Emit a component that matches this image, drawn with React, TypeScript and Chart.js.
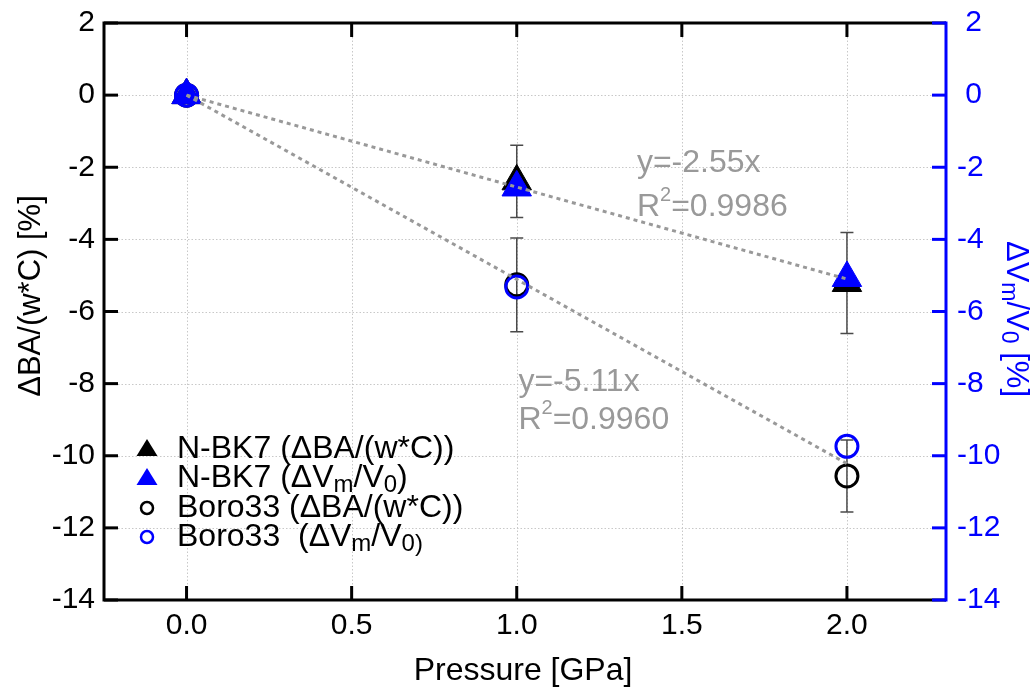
import React, { useEffect, useRef } from 'react';
import { Chart, registerables } from 'chart.js';

Chart.register(...registerables);

// ---------- data ----------
const pressure = [0, 1, 2];
const nbk7BA = [0, -2.39, -5.21];
const nbk7BAErr = [0, 1.0, 1.4];
const nbk7Vm = [0, -2.56, -5.07];
const boroBA = [0, -5.26, -10.56];
const boroBAErr = [0, 1.3, 1.0];
const boroVm = [0, -5.32, -9.74];

const fitX = [0, 2];
const fitNbk7 = [0, -5.1];
const fitBoro = [0, -10.22];

const xTicks = [0, 0.5, 1, 1.5, 2];
const yTicks = [-14, -12, -10, -8, -6, -4, -2, 0, 2];

const fitEquations = ['y=-2.55x', 'y=-5.11x'];
const fitR2 = ['0.9986', '0.9960'];
const fitLabelX = [1.364, 1.005];
const fitLabelY = [-2.13, -8.21];

const FONT = '"Liberation Sans", Arial, Helvetica, sans-serif';
const BLUE = '#0000ff';
const GRAY = '#999999';

type Seg = { t: string; sub?: boolean; sup?: boolean };

function drawRich(ctx: CanvasRenderingContext2D, x: number, y: number, segs: Seg[], size: number) {
  let cx = x;
  for (const s of segs) {
    const fs = s.sub ? Math.round(size * 0.74) : s.sup ? Math.round(size * 0.64) : size;
    ctx.font = `${fs}px ${FONT}`;
    const dy = s.sub ? size * 0.16 : s.sup ? -size * 0.46 : 0;
    ctx.fillText(s.t, cx, y + dy);
    cx += ctx.measureText(s.t).width;
  }
  return cx - x;
}

function richWidth(ctx: CanvasRenderingContext2D, segs: Seg[], size: number) {
  let w = 0;
  for (const s of segs) {
    const fs = s.sub ? Math.round(size * 0.74) : s.sup ? Math.round(size * 0.64) : size;
    ctx.font = `${fs}px ${FONT}`;
    w += ctx.measureText(s.t).width;
  }
  return w;
}

const decorPlugin = {
  id: 'decor',
  beforeDatasetsDraw(chart: any) {
    const { ctx, chartArea: a, scales } = chart;
    const x = scales.x;
    const y = scales.y;
    ctx.save();
    // grid
    ctx.strokeStyle = '#c8c8c8';
    ctx.lineWidth = 1;
    ctx.setLineDash([1.5, 2]);
    xTicks.forEach((v) => {
      const X = Math.round(x.getPixelForValue(v)) + 0.5;
      ctx.beginPath();
      ctx.moveTo(X, a.top);
      ctx.lineTo(X, a.bottom);
      ctx.stroke();
    });
    yTicks.forEach((v) => {
      if (v === -14 || v === 2) return;
      const Y = Math.round(y.getPixelForValue(v)) + 0.5;
      ctx.beginPath();
      ctx.moveTo(a.left, Y);
      ctx.lineTo(a.right, Y);
      ctx.stroke();
    });
    ctx.setLineDash([]);
    // error bars
    ctx.strokeStyle = '#4a4a4a';
    ctx.lineWidth = 1.5;
    const sets: [number[], number[]][] = [
      [nbk7BA, nbk7BAErr],
      [boroBA, boroBAErr],
    ];
    sets.forEach(([vals, errs]) => {
      pressure.forEach((p, i) => {
        if (!errs[i]) return;
        const X = x.getPixelForValue(p);
        const Yt = y.getPixelForValue(vals[i] + errs[i]);
        const Yb = y.getPixelForValue(vals[i] - errs[i]);
        ctx.beginPath();
        ctx.moveTo(X, Yt);
        ctx.lineTo(X, Yb);
        ctx.moveTo(X - 6.5, Yt);
        ctx.lineTo(X + 6.5, Yt);
        ctx.moveTo(X - 6.5, Yb);
        ctx.lineTo(X + 6.5, Yb);
        ctx.stroke();
      });
    });
    ctx.restore();
  },
  afterDatasetsDraw(chart: any) {
    const { ctx, scales } = chart;
    const x = scales.x;
    const y = scales.y;
    ctx.save();
    ctx.fillStyle = GRAY;
    ctx.textAlign = 'left';
    ctx.textBaseline = 'alphabetic';
    const gaps = [44, 38];
    fitEquations.forEach((eq, i) => {
      const X = x.getPixelForValue(fitLabelX[i]);
      const Y = y.getPixelForValue(fitLabelY[i]);
      drawRich(ctx, X, Y, [{ t: eq }], 32);
      drawRich(ctx, X, Y + gaps[i], [{ t: 'R' }, { t: '2', sup: true }, { t: '=' + fitR2[i] }], 32);
    });
    ctx.restore();
  },
  afterDraw(chart: any) {
    const { ctx, chartArea: a, scales } = chart;
    const x = scales.x;
    const y = scales.y;
    ctx.save();
    ctx.lineCap = 'butt';
    // frame
    ctx.strokeStyle = '#000';
    ctx.lineWidth = 3;
    ctx.beginPath();
    ctx.moveTo(a.right, a.top);
    ctx.lineTo(a.left, a.top);
    ctx.lineTo(a.left, a.bottom);
    ctx.lineTo(a.right, a.bottom);
    ctx.stroke();
    const TL = 14;
    // x ticks (top & bottom, inward)
    xTicks.forEach((v) => {
      const X = x.getPixelForValue(v);
      ctx.beginPath();
      ctx.moveTo(X, a.bottom);
      ctx.lineTo(X, a.bottom - TL);
      ctx.moveTo(X, a.top);
      ctx.lineTo(X, a.top + TL);
      ctx.stroke();
    });
    // left ticks
    yTicks.forEach((v) => {
      const Y = y.getPixelForValue(v);
      ctx.beginPath();
      ctx.moveTo(a.left, Y);
      ctx.lineTo(a.left + TL, Y);
      ctx.stroke();
    });
    // right axis in blue
    ctx.strokeStyle = BLUE;
    ctx.beginPath();
    ctx.moveTo(a.right, a.top - 1.5);
    ctx.lineTo(a.right, a.bottom + 1.5);
    ctx.stroke();
    yTicks.forEach((v) => {
      const Y = scales.y1.getPixelForValue(v);
      ctx.beginPath();
      ctx.moveTo(a.right, Y);
      ctx.lineTo(a.right - TL, Y);
      ctx.stroke();
    });

    // axis titles
    ctx.fillStyle = '#000';
    ctx.textBaseline = 'alphabetic';
    ctx.textAlign = 'center';
    ctx.font = `32px ${FONT}`;
    ctx.fillText('Pressure [GPa]', (a.left + a.right) / 2 - 2, 680);

    ctx.save();
    ctx.translate(40, 296);
    ctx.rotate(-Math.PI / 2);
    ctx.font = `31px ${FONT}`;
    ctx.fillText('ΔBA/(w*C) [%]', 0, 0);
    ctx.restore();

    const rightTitle: Seg[] = [
      { t: 'ΔV' },
      { t: 'm', sub: true },
      { t: '/V' },
      { t: '0', sub: true },
      { t: ' [%]' },
    ];
    ctx.save();
    ctx.translate(1007, 319);
    ctx.rotate(Math.PI / 2);
    ctx.fillStyle = BLUE;
    ctx.textAlign = 'left';
    const rw = richWidth(ctx, rightTitle, 31);
    drawRich(ctx, -rw / 2, 0, rightTitle, 31);
    ctx.restore();

    // legend
    ctx.textAlign = 'left';
    const LX = 147;
    const TX = 177;
    const baselines = [458, 487, 517, 546];
    const tri = (cy: number, color: string) => {
      ctx.fillStyle = color;
      ctx.beginPath();
      ctx.moveTo(LX, cy - 9);
      ctx.lineTo(LX + 10.5, cy + 8);
      ctx.lineTo(LX - 10.5, cy + 8);
      ctx.closePath();
      ctx.fill();
    };
    const circ = (cy: number, color: string) => {
      ctx.strokeStyle = color;
      ctx.lineWidth = 2.5;
      ctx.beginPath();
      ctx.arc(LX, cy, 6, 0, Math.PI * 2);
      ctx.stroke();
    };
    tri(baselines[0] - 10, '#000');
    tri(baselines[1] - 10, BLUE);
    circ(baselines[2] - 9, '#000');
    circ(baselines[3] - 9, BLUE);
    ctx.fillStyle = '#000';
    const LF = 32;
    drawRich(ctx, TX, baselines[0], [{ t: 'N-BK7 (ΔBA/(w*C))' }], LF);
    drawRich(ctx, TX, baselines[1], [{ t: 'N-BK7 (ΔV' }, { t: 'm', sub: true }, { t: '/V' }, { t: '0', sub: true }, { t: ')' }], LF);
    drawRich(ctx, TX, baselines[2], [{ t: 'Boro33 (ΔBA/(w*C))' }], LF);
    drawRich(ctx, TX, baselines[3], [{ t: 'Boro33  (ΔV' }, { t: 'm', sub: true }, { t: '/V' }, { t: '0', sub: true }, { t: ')', sub: true }], LF);
    ctx.restore();
  },
};

export default function App() {
  const ref = useRef<HTMLCanvasElement | null>(null);

  useEffect(() => {
    document.body.style.margin = '0';
    const canvas = ref.current;
    if (!canvas) return;
    const pts = (ys: number[]) => pressure.map((p, i) => ({ x: p, y: ys[i] }));
    const fitPts = (ys: number[]) => fitX.map((p, i) => ({ x: p, y: ys[i] }));
    const xTickFont = { family: FONT, size: 30, lineHeight: 1 };
    const yTickFont = { family: FONT, size: 30, lineHeight: 0.8 };

    const chart = new Chart(canvas, {
      type: 'scatter',
      data: {
        datasets: [
          {
            label: 'fit Boro33',
            type: 'line',
            data: fitPts(fitBoro),
            borderColor: GRAY,
            borderWidth: 3,
            borderDash: [4, 4],
            pointRadius: 0,
            fill: false,
            order: 0,
          } as any,
          {
            label: 'fit N-BK7',
            type: 'line',
            data: fitPts(fitNbk7),
            borderColor: GRAY,
            borderWidth: 3,
            borderDash: [4, 4],
            pointRadius: 0,
            fill: false,
            order: 0,
          } as any,
          {
            label: 'Boro33 (ΔVm/V0)',
            data: pts(boroVm),
            yAxisID: 'y1',
            pointStyle: 'circle',
            pointRadius: 11,
            borderWidth: 3,
            borderColor: BLUE,
            backgroundColor: 'rgba(0,0,0,0)',
            order: 1,
          },
          {
            label: 'N-BK7 (ΔVm/V0)',
            data: pts(nbk7Vm),
            yAxisID: 'y1',
            pointStyle: 'triangle',
            pointRadius: 17,
            borderWidth: 1,
            borderColor: BLUE,
            backgroundColor: BLUE,
            order: 2,
          },
          {
            label: 'Boro33 (ΔBA/(w*C))',
            data: pts(boroBA),
            pointStyle: 'circle',
            pointRadius: 11,
            borderWidth: 3,
            borderColor: '#000',
            backgroundColor: 'rgba(0,0,0,0)',
            order: 3,
          },
          {
            label: 'N-BK7 (ΔBA/(w*C))',
            data: pts(nbk7BA),
            pointStyle: 'triangle',
            pointRadius: 17,
            borderWidth: 1,
            borderColor: '#000',
            backgroundColor: '#000',
            order: 4,
          },
        ],
      },
      options: {
        responsive: false,
        animation: false,
        events: [],
        layout: { padding: { top: 23, left: 0, right: 0, bottom: 0 } },
        plugins: {
          legend: { display: false },
          tooltip: { enabled: false },
        },
        scales: {
          x: {
            type: 'linear',
            min: -0.25,
            max: 2.3,
            afterBuildTicks: (s: any) => {
              s.ticks = xTicks.map((v) => ({ value: v }));
            },
            afterFit: (s: any) => {
              s.height = 92;
            },
            ticks: {
              callback: (v: any) => Number(v).toFixed(1),
              font: xTickFont,
              color: '#000',
              padding: 11,
              maxRotation: 0,
              autoSkip: false,
            },
            grid: { display: false, drawTicks: false },
            border: { display: false },
          },
          y: {
            type: 'linear',
            position: 'left',
            min: -14,
            max: 2,
            afterFit: (s: any) => {
              s.width = 104;
            },
            ticks: { stepSize: 2, font: yTickFont, color: '#000', padding: 9 },
            grid: { display: false, drawTicks: false },
            border: { display: false },
          },
          y1: {
            type: 'linear',
            position: 'right',
            min: -14,
            max: 2,
            afterFit: (s: any) => {
              s.width = 90;
            },
            ticks: {
              stepSize: 2,
              font: yTickFont,
              color: BLUE,
              padding: 11,
              callback: (v: any) => (Number(v) >= 0 ? ' ' : '') + String(v),
            },
            grid: { display: false, drawTicks: false },
            border: { display: false },
          },
        },
      } as any,
      plugins: [decorPlugin],
    });

    return () => {
      chart.destroy();
    };
  }, []);

  return (
    <div style={{ position: 'fixed', left: 0, top: 0, width: 1036, height: 692, background: '#fff' }}>
      <canvas ref={ref} width={1036} height={692} style={{ display: 'block' }} />
    </div>
  );
}
